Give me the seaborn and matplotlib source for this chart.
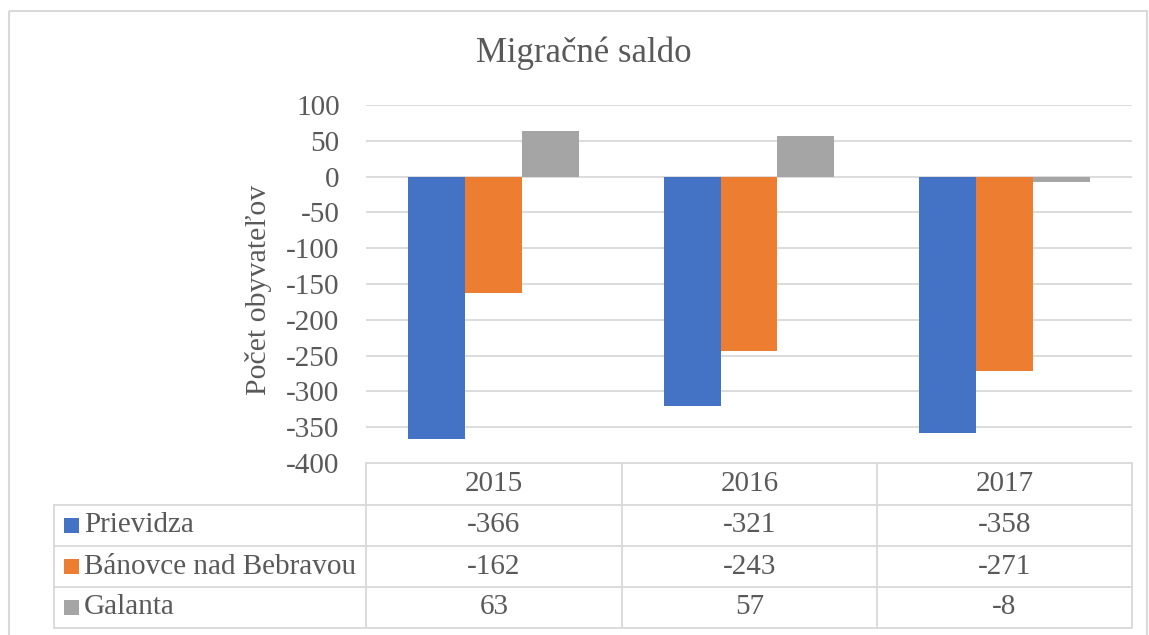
import numpy as np
import pandas as pd
import matplotlib
matplotlib.use('Agg')
import matplotlib.pyplot as plt
from matplotlib.patches import Rectangle
from matplotlib.lines import Line2D
import seaborn as sns

# data
years = ['2015', '2016', '2017']
towns = ['Prievidza', 'Bánovce nad Bebravou', 'Galanta']
prievidza = [-366, -321, -358]
banovce = [-162, -243, -271]
galanta = [63, 57, -8]
colors = ['#4472C4', '#ED7D31', '#A5A5A5']
y_ticks = list(range(-400, 101, 50))

df = pd.DataFrame({
    'year': years * 3,
    'town': [towns[0]] * 3 + [towns[1]] * 3 + [towns[2]] * 3,
    'value': prievidza + banovce + galanta,
})

sns.set_theme(style='white')
plt.rcParams['font.family'] = ['Liberation Serif', 'DejaVu Serif']
txt = '#595959'
line_c = '#D9D9D9'
fs = 21

W, H = 1149, 635
fig = plt.figure(figsize=(W / 100, H / 100), dpi=100)

# pixel helper axes for frame / table
pax = fig.add_axes([0, 0, 1, 1])
pax.set_xlim(0, W)
pax.set_ylim(H, 0)
pax.axis('off')
pax.patch.set_alpha(0)

# plot area: x 366..1132, y 105..463
x0, x1, yt, yb = 366, 1132, 105, 463
ax = fig.add_axes([x0 / W, 1 - yb / H, (x1 - x0) / W, (yb - yt) / H])
sns.barplot(data=df, x='year', y='value', hue='town', palette=colors,
            width=0.668, gap=0, saturation=1, ax=ax, legend=False,
            edgecolor='none', linewidth=0, zorder=3)
ax.set_xlim(-0.5, 2.5)
ax.set_ylim(-400, 100)
ax.set_yticks(y_ticks)
ax.set_yticklabels([str(v) for v in y_ticks], fontsize=fs, color=txt)
ax.tick_params(axis='y', length=0, pad=19)
ax.set_xticks([])
ax.set_xlabel('')
ax.set_ylabel('')
for s in ax.spines.values():
    s.set_visible(False)
for v in y_ticks[1:]:
    ax.axhline(v, color=line_c, lw=1.3, zorder=1)
ax.patch.set_alpha(0)

# outer frame
pax.add_patch(Rectangle((9, 11), 1138, 640, fill=False, ec=line_c, lw=1.5))

# title and y label
pax.text(584, 53, 'Migračné saldo', fontsize=25, color=txt, ha='center', va='center')
pax.text(259, 290, 'Počet obyvateľov', fontsize=21.5, color=txt, ha='center',
         va='center', rotation=90)

# data table
cols = [366, 622, 877, 1132]
rows = [463, 505, 546, 587, 628]
lw = 1.3
pax.add_line(Line2D([cols[0], cols[-1]], [rows[0], rows[0]], color=line_c, lw=lw))
for r in rows[1:]:
    pax.add_line(Line2D([54, cols[-1]], [r, r], color=line_c, lw=lw))
for c in cols:
    pax.add_line(Line2D([c, c], [rows[0], rows[-1]], color=line_c, lw=lw))
pax.add_line(Line2D([54, 54], [rows[1], rows[-1]], color=line_c, lw=lw))

for j, yr in enumerate(years):
    cx = (cols[j] + cols[j + 1]) / 2
    pax.text(cx, (rows[0] + rows[1]) / 2, yr, fontsize=fs, color=txt,
             ha='center', va='center')

series = [prievidza, banovce, galanta]
for i, name in enumerate(towns):
    cy = (rows[i + 1] + rows[i + 2]) / 2
    pax.add_patch(Rectangle((64, cy - 7.5), 15, 15, color=colors[i], lw=0))
    pax.text(84, cy, name, fontsize=fs, color=txt, ha='left', va='center')
    for j, v in enumerate(series[i]):
        cx = (cols[j] + cols[j + 1]) / 2
        pax.text(cx, cy, str(v), fontsize=fs, color=txt, ha='center', va='center')

fig.savefig('out.png', dpi=100)
